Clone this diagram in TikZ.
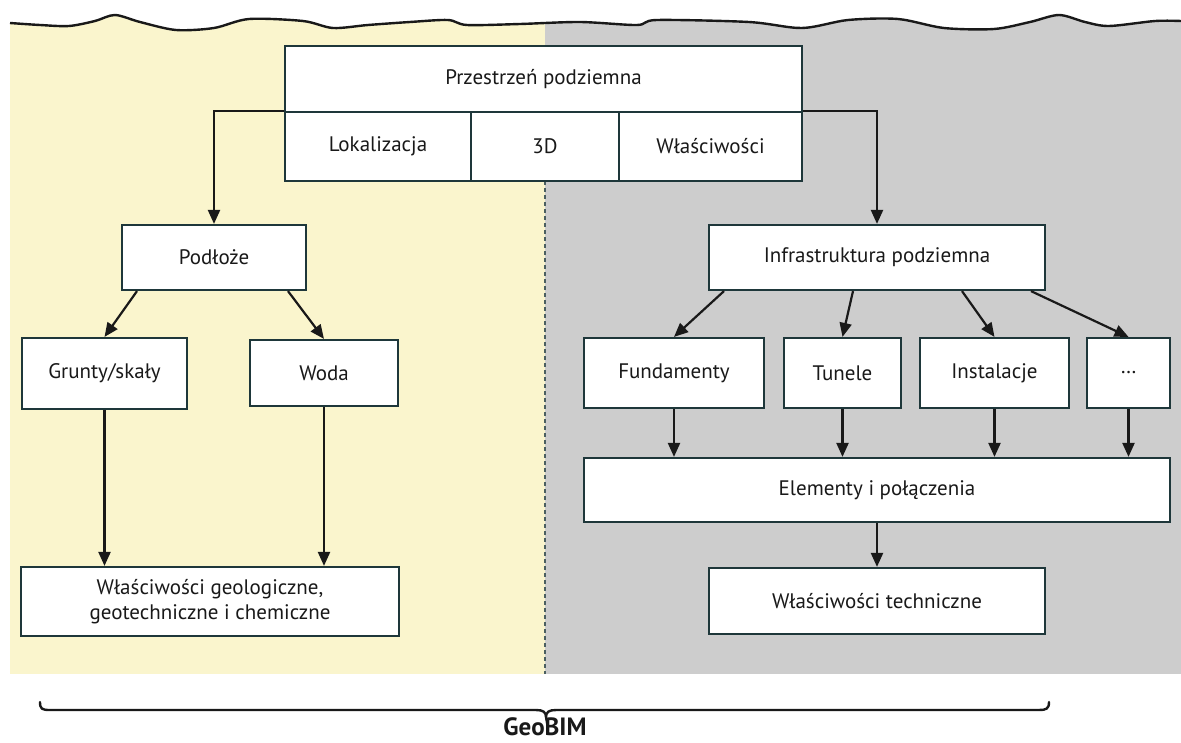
\documentclass[tikz,border=0pt]{standalone}
\usepackage{fontspec}
\setmainfont{PT Sans}
\usetikzlibrary{arrows.meta}
\definecolor{ybg}{RGB}{250,245,205}
\definecolor{gbg}{RGB}{205,205,205}
\definecolor{edge}{RGB}{30,55,58}
\tikzset{
  box/.style={draw=edge, line width=2.2pt, fill=white, inner sep=0pt, align=center,
    font=\fontsize{21}{25}\selectfont, text=black!90},
  conn/.style={line width=2.2pt, draw=black!90, -{Triangle[length=14pt,width=12pt]}},
}
\begin{document}
\begin{tikzpicture}[x=1pt,y=-1pt]
\useasboundingbox (0,0) rectangle (1181,742);
\fill[white] (0,0) rectangle (1181,742);
% backgrounds
\begin{scope}
\clip (10,674) -- (10,23) -- plot[smooth] coordinates {(10,23) (40,25) (69,26) (95,21) (115,15) (140,22) (176,30) (214,28) (249,19) (303,21) (333,28) (368,25) (410,22) (448,20) (467,25) (520,24) (580,22) (637,25) (657,20) (749,22) (802,28) (848,20) (898,19) (944,28) (994,29) (1030,22) (1059,15) (1085,22) (1109,26) (1155,21) (1181,21)} -- (1181,674) -- cycle;
\fill[ybg] (10,0) rectangle (545,674);
\fill[gbg] (545,0) rectangle (1181,674);
\end{scope}
\draw[line width=2.4pt, black!90] plot[smooth] coordinates {(10,23) (40,25) (69,26) (95,21) (115,15) (140,22) (176,30) (214,28) (249,19) (303,21) (333,28) (368,25) (410,22) (448,20) (467,25) (520,24) (580,22) (637,25) (657,20) (749,22) (802,28) (848,20) (898,19) (944,28) (994,29) (1030,22) (1059,15) (1085,22) (1109,26) (1155,21) (1181,21)};
\draw[edge!80, line width=1.2pt, dash pattern=on 4pt off 3pt] (545,181) -- (545,674);
% top box
\node[box, minimum width=517pt, minimum height=66pt] (ps) at (543.5,79) {Przestrzeń podziemna};
\node[box, minimum width=186pt, minimum height=69pt] (loc) at (378,146.5) {Lokalizacja};
\node[box, minimum width=148pt, minimum height=69pt] (d3) at (545,146.5) {3D};
\node[box, minimum width=183pt, minimum height=69pt] (wl) at (710.5,146.5) {Właściwości};
% left
\node[box, minimum width=184pt, minimum height=65pt] (pod) at (214,257.5) {Podłoże};
\node[box, minimum width=165pt, minimum height=71pt] (gru) at (104.5,373.5) {Grunty/skały};
\node[box, minimum width=148pt, minimum height=66pt] (woda) at (324,373) {Woda};
\node[box, minimum width=378pt, minimum height=69pt] (wgeo) at (210,601.5) {Właściwości geologiczne,\\geotechniczne i chemiczne};
% right
\node[box, minimum width=336pt, minimum height=65pt] (inf) at (877,257.5) {Infrastruktura podziemna};
\node[box, minimum width=180pt, minimum height=70pt] (fun) at (674,373) {Fundamenty};
\node[box, minimum width=117pt, minimum height=70pt] (tun) at (842.5,373) {Tunele};
\node[box, minimum width=149pt, minimum height=70pt] (ins) at (994.5,373) {Instalacje};
\node[box, minimum width=83pt, minimum height=70pt] (dots) at (1128.5,373) {\dots};
\node[box, minimum width=586pt, minimum height=64pt] (el) at (877,490) {Elementy i połączenia};
\node[box, minimum width=336pt, minimum height=66pt] (wt) at (877,601) {Właściwości techniczne};
% connectors
\draw[conn] (loc.north west) -| (pod.north);
\draw[conn] (wl.north east) -| (inf.north);
\draw[conn] ([xshift=-77pt]pod.south) -- (gru.north);
\draw[conn] ([xshift=74pt]pod.south) -- (woda.north);
\draw[conn] (gru.south) -- (gru.south |- wgeo.north);
\draw[conn] (woda.south) -- (woda.south |- wgeo.north);
\draw[conn] ([xshift=-153pt]inf.south) -- (fun.north);
\draw[conn] ([xshift=-24pt]inf.south) -- (tun.north);
\draw[conn] ([xshift=85pt]inf.south) -- (ins.north);
\draw[conn] ([xshift=154pt]inf.south) -- (dots.north);
\draw[conn] (fun.south) -- (fun.south |- el.north);
\draw[conn] (tun.south) -- (tun.south |- el.north);
\draw[conn] (ins.south) -- (ins.south |- el.north);
\draw[conn] (dots.south) -- (dots.south |- el.north);
\draw[conn] (el.south) -- (wt.north);
% brace
\draw[line width=2.4pt, black!90, line cap=round] (40,702) .. controls (40,709) and (42,710) .. (50,710) -- (536,710) .. controls (543,710) and (546,712) .. (546,717) .. controls (546,712) and (549,710) .. (556,710) -- (1039,710) .. controls (1046,710) and (1049,709) .. (1049,702);
\node[font=\fontsize{25}{29}\selectfont\bfseries, text=black!90, inner sep=0pt, anchor=base] (geo) at (545,735) {GeoBIM};
\end{tikzpicture}
\end{document}
